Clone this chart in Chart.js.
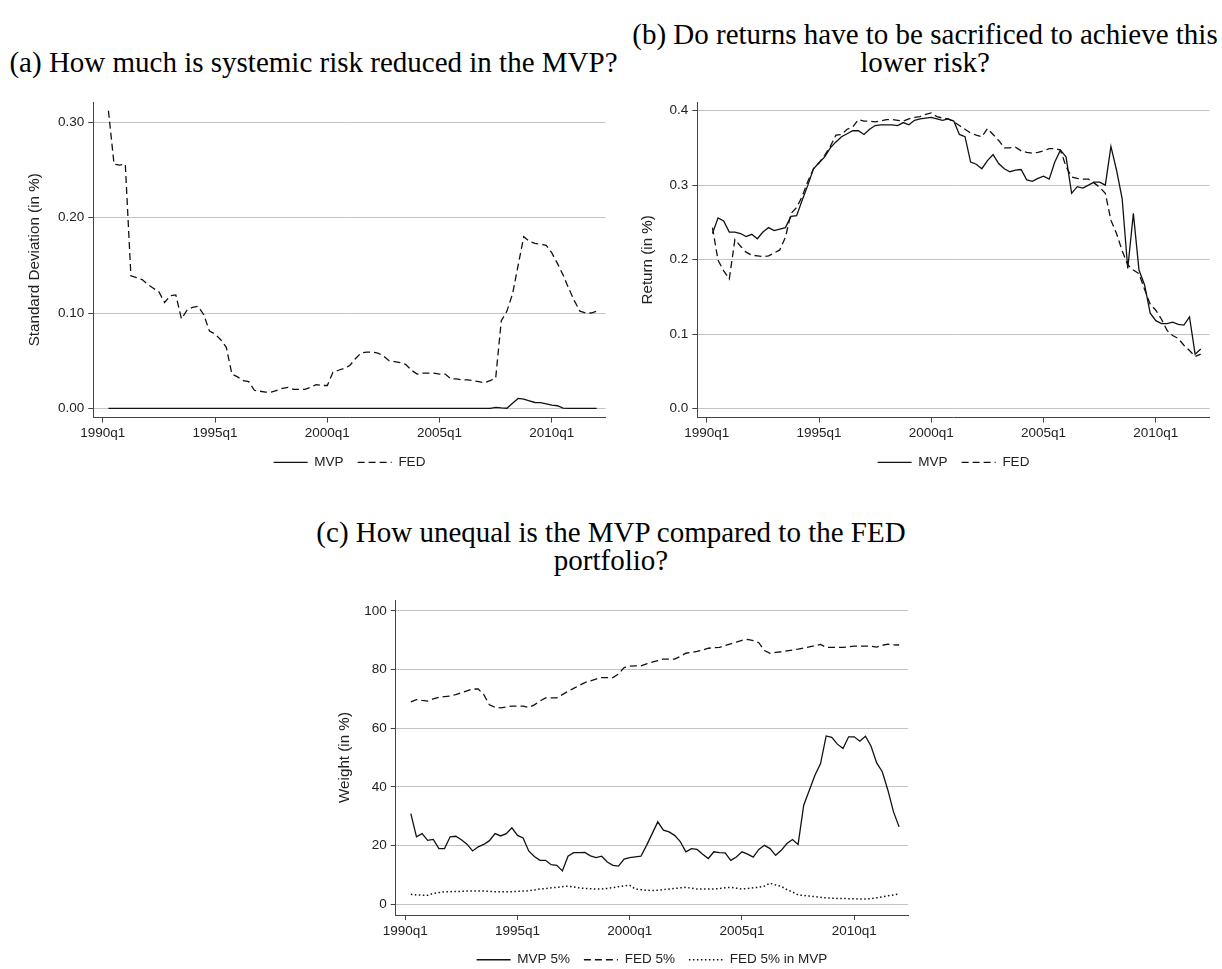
<!DOCTYPE html>
<html>
<head>
<meta charset="utf-8">
<script src="https://cdn.jsdelivr.net/npm/chart.js@4.4.0/dist/chart.umd.min.js"></script>
<style>
  html, body { margin: 0; padding: 0; background: #fff; }
  body { width: 1222px; height: 969px; position: relative; overflow: hidden; }
  .cap {
    position: absolute;
    font-family: 'Liberation Serif', 'Times New Roman', serif;
    font-size: 29px;
    line-height: 28px;
    color: #000;
    text-align: center;
    white-space: nowrap;
  }
  canvas { position: absolute; }
</style>
</head>
<body>
<div class="cap" style="left:0;top:48px;width:627px;">(a) How much is systemic risk reduced in the MVP?</div>
<div class="cap" style="left:629px;top:20px;width:592px;">(b) Do returns have to be sacrificed to achieve this<br>lower risk?</div>
<div class="cap" style="left:300px;top:518px;width:622px;">(c) How unequal is the MVP compared to the FED<br>portfolio?</div>

<canvas id="chartA" width="620" height="392" style="left:0;top:88px"></canvas>
<canvas id="chartB" width="611" height="392" style="left:611px;top:88px"></canvas>
<canvas id="chartC" width="620" height="392" style="left:300px;top:586px"></canvas>

<script>
// quarter index: 0 = 1990q1, series start at 1990q2 (index 1)
const quarterTicks = [0, 20, 40, 60, 80];
const quarterTickLabels = ['1990q1', '1995q1', '2000q1', '2005q1', '2010q1'];

const riskTicks = [0, 0.1, 0.2, 0.3];
const riskTickLabels = ['0.00', '0.10', '0.20', '0.30'];
const returnTicks = [0, 0.1, 0.2, 0.3, 0.4];
const returnTickLabels = ['0.0', '0.1', '0.2', '0.3', '0.4'];
const weightTicks = [0, 20, 40, 60, 80, 100];
const weightTickLabels = ['0', '20', '40', '60', '80', '100'];

// standard deviation (in %)
const riskMvp = [
  0, 0, 0, 0, 0, 0, 0, 0,
  0, 0, 0, 0, 0, 0, 0, 0,
  0, 0, 0, 0, 0, 0, 0, 0,
  0, 0, 0, 0, 0, 0, 0, 0,
  0, 0, 0, 0, 0, 0, 0, 0,
  0, 0, 0, 0, 0, 0, 0, 0,
  0, 0, 0, 0, 0, 0, 0, 0,
  0, 0, 0, 0, 0, 0, 0, 0,
  0, 0, 0, 0, 0, 0.001, 0.0005, 0.0002,
  0.0055, 0.0105, 0.0098, 0.008, 0.0062, 0.006, 0.0048, 0.0035,
  0.0028, 0.0002, 0.0001, 0.0001, 0.0001, 0.0001, 0.0001, 0.0001
];
const riskFed = [
  0.312, 0.256, 0.255, 0.256, 0.139, 0.137, 0.135, 0.130,
  0.126, 0.122, 0.111, 0.118, 0.119, 0.094, 0.103, 0.106,
  0.107, 0.098, 0.081, 0.078, 0.072, 0.064, 0.036, 0.033,
  0.029, 0.028, 0.019, 0.018, 0.017, 0.017, 0.019, 0.021,
  0.022, 0.020, 0.020, 0.020, 0.022, 0.025, 0.024, 0.024,
  0.038, 0.040, 0.042, 0.045, 0.052, 0.058, 0.059, 0.059,
  0.058, 0.055, 0.050, 0.049, 0.048, 0.046, 0.040, 0.036,
  0.037, 0.037, 0.037, 0.036, 0.036, 0.031, 0.031, 0.030,
  0.030, 0.029, 0.028, 0.027, 0.029, 0.032, 0.092, 0.102,
  0.120, 0.150, 0.180, 0.175, 0.173, 0.172, 0.171, 0.163,
  0.152, 0.140, 0.126, 0.113, 0.102, 0.100, 0.100, 0.102
];

// return (in %)
const returnMvp = [
  0.235, 0.256, 0.252, 0.237, 0.237, 0.235, 0.231, 0.234,
  0.228, 0.237, 0.243, 0.239, 0.241, 0.243, 0.258, 0.259,
  0.280, 0.300, 0.322, 0.330, 0.338, 0.350, 0.358, 0.365,
  0.369, 0.373, 0.373, 0.368, 0.375, 0.380, 0.381, 0.381,
  0.381, 0.380, 0.384, 0.381, 0.387, 0.389, 0.390, 0.391,
  0.389, 0.387, 0.389, 0.386, 0.368, 0.365, 0.331, 0.328,
  0.322, 0.333, 0.341, 0.329, 0.322, 0.318, 0.320, 0.321,
  0.307, 0.305, 0.309, 0.312, 0.308, 0.331, 0.347, 0.338,
  0.289, 0.298, 0.296, 0.300, 0.304, 0.304, 0.300, 0.352,
  0.320, 0.282, 0.188, 0.262, 0.186, 0.166, 0.128, 0.118,
  0.114, 0.114, 0.116, 0.113, 0.112, 0.123, 0.073, 0.080
];
const returnFed = [
  0.243, 0.199, 0.185, 0.174, 0.227, 0.218, 0.210, 0.206,
  0.205, 0.204, 0.205, 0.209, 0.213, 0.230, 0.262, 0.270,
  0.285, 0.305, 0.322, 0.330, 0.340, 0.352, 0.367, 0.368,
  0.375, 0.378, 0.388, 0.386, 0.386, 0.385, 0.386, 0.388,
  0.388, 0.387, 0.386, 0.389, 0.391, 0.392, 0.395, 0.397,
  0.392, 0.390, 0.389, 0.385, 0.380, 0.375, 0.370, 0.367,
  0.365, 0.376, 0.368, 0.360, 0.350, 0.350, 0.351, 0.346,
  0.344, 0.343, 0.344, 0.346, 0.349, 0.349, 0.347, 0.325,
  0.311, 0.309, 0.308, 0.308, 0.303, 0.297, 0.289, 0.253,
  0.235, 0.212, 0.193, 0.186, 0.181, 0.160, 0.140, 0.132,
  0.120, 0.105, 0.098, 0.094, 0.085, 0.078, 0.070, 0.073
];

// weight (in %)
const weightMvp5 = [
  30.9, 23.0, 24.1, 21.8, 22.1, 19.0, 19.0, 23.0,
  23.2, 22.0, 20.5, 18.2, 19.6, 20.4, 21.7, 24.1,
  23.3, 24.1, 26.1, 23.5, 22.6, 18.2, 16.3, 15.0,
  15.0, 13.5, 13.3, 11.4, 16.4, 17.6, 17.6, 17.7,
  16.5, 15.9, 16.4, 14.4, 13.3, 13.0, 15.4, 15.9,
  16.2, 16.4, 20.1, 24.1, 28.1, 25.3, 24.7, 23.5,
  21.4, 17.9, 19.0, 18.7, 17.1, 15.6, 17.9, 17.6,
  17.5, 15.0, 16.1, 17.9, 17.1, 16.1, 18.7, 20.1,
  19.0, 16.7, 18.4, 20.7, 22.1, 20.4, 33.8, 38.9,
  44.0, 48.0, 57.4, 56.9, 54.6, 53.1, 57.1, 57.1,
  55.6, 57.3, 53.9, 48.2, 45.2, 38.9, 31.5, 26.4
];
const weightFed5 = [
  69.0, 69.8, 69.5, 69.3, 70.0, 70.6, 70.8, 71.0,
  71.5, 72.1, 72.8, 73.4, 73.4, 71.5, 68.0, 67.2,
  67.0, 67.3, 67.6, 67.6, 67.6, 67.1, 68.0, 69.3,
  70.4, 70.4, 70.4, 71.5, 72.6, 73.6, 74.6, 75.6,
  76.2, 76.8, 77.3, 77.3, 77.3, 78.5, 80.7, 81.2,
  81.3, 81.3, 82.0, 82.6, 83.1, 83.6, 83.6, 83.6,
  84.5, 85.6, 85.9, 86.2, 86.7, 87.3, 87.5, 87.6,
  88.2, 88.8, 89.4, 90.0, 90.3, 89.9, 89.2, 86.5,
  85.6, 85.9, 86.1, 86.4, 86.7, 87.0, 87.4, 87.8,
  88.2, 88.6, 87.6, 87.6, 87.6, 87.6, 87.8, 88.0,
  88.0, 88.0, 88.0, 87.7, 88.3, 88.7, 88.5, 88.4
];
const weightFed5InMvp = [
  3.4, 3.2, 3.1, 3.1, 3.7, 4.0, 4.3, 4.3,
  4.4, 4.4, 4.5, 4.5, 4.5, 4.5, 4.4, 4.3,
  4.3, 4.3, 4.3, 4.4, 4.5, 4.6, 4.9, 5.2,
  5.4, 5.6, 5.8, 6.0, 6.2, 5.9, 5.6, 5.4,
  5.3, 5.2, 5.2, 5.4, 5.7, 6.0, 6.3, 6.5,
  5.2, 5.0, 4.8, 4.7, 4.8, 5.0, 5.2, 5.4,
  5.6, 5.8, 5.5, 5.2, 5.2, 5.2, 5.2, 5.4,
  5.6, 5.8, 5.5, 5.2, 5.4, 5.6, 5.8, 6.2,
  7.2, 6.6, 6.1, 5.0, 4.2, 3.2, 3.0, 2.8,
  2.6, 2.4, 2.2, 2.1, 2.0, 2.0, 1.9, 1.9,
  1.8, 1.8, 1.9, 2.2, 2.5, 2.9, 3.2, 3.5
];

const FONT_SIZE = 13.5;
const TITLE_SIZE = 15.2;
const LEGEND_PAD = 14;
const PLOT_TOP = 14;
const X_AXIS_H = 24;
const DASH = [7, 4];
const DOT = [1.5, 2.5];
const INK = '#111';
const TEXT = '#222';
const AXIS = '#444';
const FAMILY = "'Liberation Sans', Arial, sans-serif";

const toPoints = vals => vals.map((v, i) => ({ x: i + 1, y: v }));

// legend keys drawn as short line samples carrying each series' dash pattern
function lineKeys(chart) {
  const items = Chart.defaults.plugins.legend.labels.generateLabels(chart);
  items.forEach(item => {
    const ds = chart.data.datasets[item.datasetIndex];
    item.pointStyle = 'line';
    item.lineDash = ds.borderDash;
    item.lineWidth = ds.borderWidth;
    item.strokeStyle = ds.borderColor;
  });
  return items;
}

function makePanel(id, cfg) {
  const font = { family: FAMILY, size: FONT_SIZE };
  const titleFont = { family: FAMILY, size: TITLE_SIZE };
  const canvas = document.getElementById(id);
  const legendH = FONT_SIZE + LEGEND_PAD + 10;
  const padBottom = canvas.height - PLOT_TOP - cfg.plotH - X_AXIS_H - legendH;

  return new Chart(canvas, {
    type: 'line',
    data: {
      datasets: cfg.series.map(s => ({
        label: s.label,
        data: toPoints(s.values),
        borderColor: INK,
        backgroundColor: 'rgba(0,0,0,0)',
        borderWidth: s.width || 1.3,
        borderDash: s.dash || [],
        pointRadius: 0,
        tension: 0,
        fill: false
      }))
    },
    options: {
      responsive: false,
      animation: false,
      devicePixelRatio: 1,
      events: [],
      layout: { padding: { left: 0, right: cfg.padRight, top: PLOT_TOP, bottom: padBottom } },
      plugins: {
        legend: {
          position: 'bottom',
          fullSize: false,
          labels: {
            usePointStyle: true, pointStyleWidth: 34,
            generateLabels: lineKeys,
            padding: LEGEND_PAD, color: TEXT, font
          }
        },
        tooltip: { enabled: false }
      },
      scales: {
        x: {
          type: 'linear',
          min: -1.7,
          max: 89.6,
          afterBuildTicks: s => { s.ticks = quarterTicks.map(v => ({ value: v })); },
          afterFit: s => { s.height = X_AXIS_H; },
          ticks: {
            callback: (v, i) => quarterTickLabels[i],
            color: TEXT, font, padding: 3, maxRotation: 0, autoSkip: false
          },
          grid: { drawOnChartArea: false, tickLength: 5, tickColor: AXIS, lineWidth: 1 },
          border: { color: AXIS, width: 1 }
        },
        y: {
          min: cfg.yMin,
          max: cfg.yMax,
          afterBuildTicks: s => { s.ticks = cfg.yTicks.map(v => ({ value: v })); },
          afterFit: s => { s.width = cfg.yAxisW; },
          ticks: {
            callback: (v, i) => cfg.yTickLabels[i],
            color: TEXT, font, padding: 4, autoSkip: false
          },
          grid: { color: '#c4c4c4', lineWidth: 1, tickLength: 5, tickColor: AXIS },
          border: { color: AXIS, width: 1 },
          title: {
            display: true, text: cfg.yTitle, color: TEXT, font: titleFont,
            padding: { top: cfg.yTitlePad, bottom: 0 }
          }
        }
      }
    }
  });
}

makePanel('chartA', {
  plotH: 315.6, yAxisW: 93.3, padRight: 14.3, yTitlePad: 26,
  yMin: -0.00964, yMax: 0.3212,
  yTicks: riskTicks, yTickLabels: riskTickLabels,
  yTitle: 'Standard Deviation (in %)',
  series: [
    { label: 'MVP', values: riskMvp },
    { label: 'FED', values: riskFed, dash: DASH }
  ]
});

makePanel('chartB', {
  plotH: 315.6, yAxisW: 86.3, padRight: 12.3, yTitlePad: 27.5,
  yMin: -0.0121, yMax: 0.4116,
  yTicks: returnTicks, yTickLabels: returnTickLabels,
  yTitle: 'Return (in %)',
  series: [
    { label: 'MVP', values: returnMvp },
    { label: 'FED', values: returnFed, dash: DASH }
  ]
});

makePanel('chartC', {
  plotH: 315, yAxisW: 95.7, padRight: 11.9, yTitlePad: 36,
  yMin: -3.65, yMax: 103.75,
  yTicks: weightTicks, yTickLabels: weightTickLabels,
  yTitle: 'Weight (in %)',
  series: [
    { label: 'MVP 5%', values: weightMvp5 },
    { label: 'FED 5%', values: weightFed5, dash: DASH },
    { label: 'FED 5% in MVP', values: weightFed5InMvp, dash: DOT, width: 1.5 }
  ]
});
</script>
</body>
</html>
